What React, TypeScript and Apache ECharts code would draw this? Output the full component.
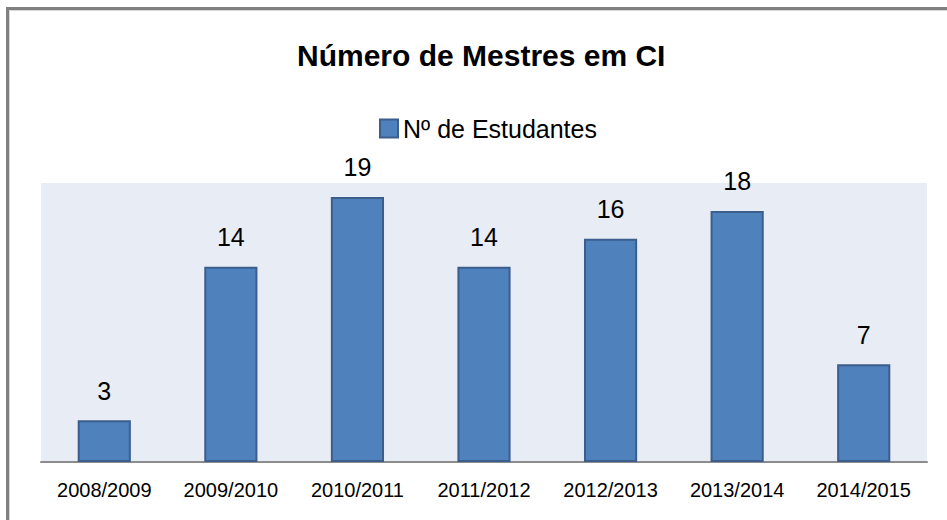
import React, { useEffect, useRef } from "react";
import * as echarts from "echarts";

const title = "Número de Mestres em CI";
const seriesName = "Nº de Estudantes";
const categories = ["2008/2009", "2009/2010", "2010/2011", "2011/2012", "2012/2013", "2013/2014", "2014/2015"];
const values = [3, 14, 19, 14, 16, 18, 7];

const FONT = "'Liberation Sans Narrow', 'Arial Narrow', 'Liberation Sans', Arial, sans-serif";

export default function App() {
  const ref = useRef<HTMLDivElement>(null);
  useEffect(() => {
    if (!ref.current) return;
    const chart = echarts.init(ref.current, undefined, { renderer: "svg" });
    chart.setOption({
      animation: false,
      backgroundColor: "#ffffff",
      title: {
        text: title,
        left: 292,
        top: 35,
        textStyle: { fontFamily: FONT, fontWeight: "bold", fontSize: 30, color: "#000000" },
      },
      legend: {
        top: 111,
        left: 374,
        itemWidth: 18,
        itemHeight: 18,
        itemGap: 6,
        icon: "rect",
        textStyle: { fontFamily: FONT, fontSize: 25, color: "#000000", padding: [2, 0, 0, 0] },
        data: [seriesName],
      },
      graphic: [
        {
          type: "rect",
          shape: { x: 7.5, y: 8.5, width: 1000, height: 600 },
          style: { fill: "none", stroke: "#808080", lineWidth: 3 },
          z: 100,
        },
        {
          type: "rect",
          shape: { x: 9.5, y: 10.5, width: 1000, height: 600 },
          style: { fill: "none", stroke: "#d8d8d8", lineWidth: 1 },
          z: 100,
        },
      ],
      grid: { left: 41, right: 20, top: 183, bottom: 58, show: true, backgroundColor: "#e8ecf4", borderWidth: 0 },
      xAxis: {
        type: "category",
        data: categories,
        axisLine: { show: true, lineStyle: { color: "#8c8c8c", width: 2 } },
        axisTick: { show: false },
        axisLabel: { fontFamily: FONT, fontSize: 20, color: "#000000", margin: 18, interval: 0 },
      },
      yAxis: {
        type: "value",
        min: 0,
        max: 20,
        show: false,
        splitLine: { show: false },
      },
      series: [
        {
          name: seriesName,
          type: "bar",
          data: values,
          barCategoryGap: "58%",
          itemStyle: { color: "#4f81bd", borderColor: "#3b5e8c", borderWidth: 2 },
          label: {
            show: true,
            position: "top",
            distance: 17,
            fontFamily: FONT,
            fontSize: 25,
            color: "#000000",
          },
        },
      ],
    });
    return () => chart.dispose();
  }, []);
  return <div ref={ref} style={{ position: "fixed", left: 0, top: 0, width: 947, height: 520 }} />;
}
